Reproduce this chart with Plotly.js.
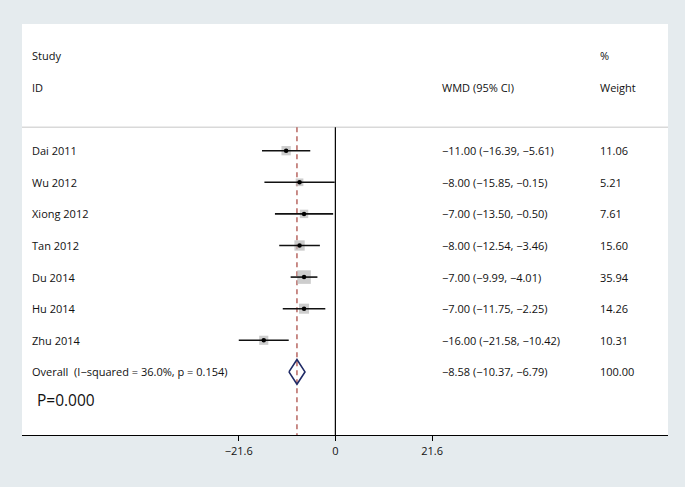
<!DOCTYPE html>
<html>
<head>
<meta charset="utf-8">
<script src="https://cdn.plot.ly/plotly-3.0.1.min.js"></script>
<style>html,body{margin:0;padding:0;background:#e5ebee;}#chart{width:685px;height:487px;}</style>
</head>
<body>
<div id="chart"></div>
<script>
// ---- data ----
const studies = ['Dai 2011', 'Wu 2012', 'Xiong 2012', 'Tan 2012', 'Du 2014', 'Hu 2014', 'Zhu 2014'];
const wmd     = [-11.00, -8.00, -7.00, -8.00, -7.00, -7.00, -16.00];
const ciLow   = [-16.39, -15.85, -13.50, -12.54, -9.99, -11.75, -21.58];
const ciHigh  = [-5.61, -0.15, -0.50, -3.46, -4.01, -2.25, -10.42];
const weights = [11.06, 5.21, 7.61, 15.60, 35.94, 14.26, 10.31];
const overallLabel = 'Overall\u00a0 (I\u2212squared = 36.0%, p = 0.154)';
const overallEst = -8.58;
const overallLow = -10.37;
const overallHigh = -6.79;
const overallWeight = 100.00;
const tickVals = [-21.6, 0, 21.6];
const tickText = ['\u221221.6', '0', '21.6'];
const pText = 'P=0.000';

// ---- helpers ----
const fmt = v => v.toFixed(2).replace('-', '\u2212');
const ciText = (e, l, h) => fmt(e) + ' (' + fmt(l) + ', ' + fmt(h) + ')';
const rows = studies.map((_, i) => i);
const overallRow = studies.length;

const FONT = 'Open Sans, Noto Sans, sans-serif';
const TXT = '#111111';
const colName = 0.0124, colCI = 0.6471, colW = 0.8916;

const traces = [
  { // weight boxes
    type: 'scatter', mode: 'markers', x: wmd, y: rows,
    marker: { symbol: 'square', color: '#b8b8b8', size: weights.map(w => 4 + 1.6 * Math.sqrt(w)), line: { width: 0 } },
    hoverinfo: 'skip', showlegend: false
  },
  { // point estimates + CIs
    type: 'scatter', mode: 'markers', x: wmd, y: rows,
    marker: { symbol: 'circle', color: '#000', size: 4.5 },
    error_x: { type: 'data', symmetric: false,
      array: wmd.map((e, i) => ciHigh[i] - e),
      arrayminus: wmd.map((e, i) => e - ciLow[i]),
      color: '#111', thickness: 1.6, width: 0 },
    showlegend: false
  },
  { // overall diamond
    type: 'scatter', mode: 'lines',
    x: [overallLow, overallEst, overallHigh, overallEst, overallLow],
    y: [overallRow, overallRow - 0.39, overallRow, overallRow + 0.39, overallRow],
    line: { color: '#1f2a66', width: 1.6 },
    showlegend: false
  }
];

const ann = [];
const addT = (text, x, y, size) => ann.push({ text, x, y, xref: 'paper', yref: 'y', xanchor: 'left', yanchor: 'middle', showarrow: false, font: { family: FONT, size: size || 11, color: TXT } });
addT('Study', colName, -3);
addT('ID', colName, -2);
addT('%', colW, -3);
addT('Weight', colW, -2);
addT('WMD (95% CI)', colCI, -2);
studies.forEach((s, i) => {
  addT(s, colName, i);
  addT(ciText(wmd[i], ciLow[i], ciHigh[i]), colCI, i);
  addT(weights[i].toFixed(2), colW, i);
});
addT(overallLabel, colName, overallRow);
addT(ciText(overallEst, overallLow, overallHigh), colCI, overallRow);
addT(overallWeight.toFixed(2), colW, overallRow);
ann.push({ text: pText, x: 0.0195, y: overallRow + 0.89, xref: 'paper', yref: 'y', xanchor: 'left', yanchor: 'middle', showarrow: false, font: { family: FONT, size: 15.5, color: TXT } });

const lineTop = -0.74;
const layout = {
  width: 685, height: 487,
  margin: { l: 22, r: 17, t: 24, b: 52, pad: 0 },
  paper_bgcolor: '#e5ebee', plot_bgcolor: '#ffffff',
  font: { family: FONT, color: TXT },
  xaxis: {
    range: [-70.0, 74.3], showgrid: false, zeroline: false,
    showline: true, linecolor: '#000', linewidth: 1.3,
    ticks: 'outside', ticklen: 5, tickcolor: '#000', tickwidth: 1,
    tickvals: tickVals, ticktext: tickText,
    tickfont: { family: FONT, size: 11, color: TXT }, fixedrange: true
  },
  yaxis: { range: [8.997, -4.009], visible: false, showgrid: false, zeroline: false, fixedrange: true },
  shapes: [
    { type: 'line', xref: 'paper', yref: 'y', x0: 0, x1: 1, y0: lineTop, y1: lineTop, line: { color: '#d9d9d9', width: 1.5 }, layer: 'below' },
    { type: 'line', xref: 'x', yref: 'y', x0: 0, x1: 0, y0: lineTop, y1: 8.997, line: { color: '#000', width: 1.2 }, layer: 'below' },
    { type: 'line', xref: 'x', yref: 'y', x0: overallEst, x1: overallEst, y0: lineTop, y1: 8.997, line: { color: '#a6403a', width: 1.2, dash: '5px,4px' }, layer: 'below' }
  ],
  annotations: ann,
  showlegend: false
};

Plotly.newPlot('chart', traces, layout, { displayModeBar: false, staticPlot: true });
</script>
</body>
</html>
